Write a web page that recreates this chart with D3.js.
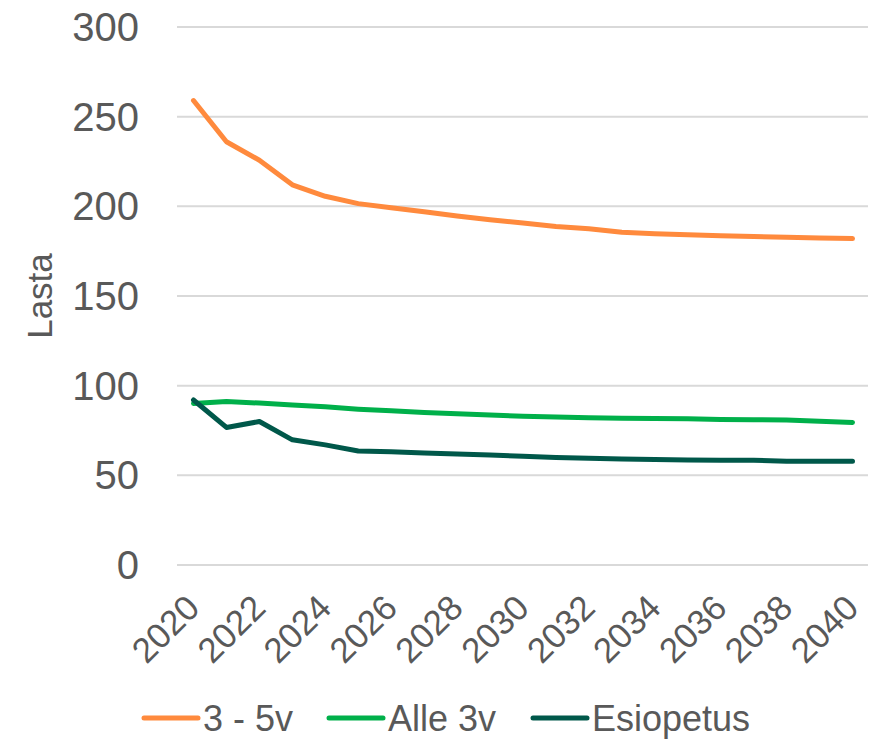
<!DOCTYPE html>
<html>
<head>
<meta charset="UTF-8">
<title>Lasta</title>
<style>
    body { margin: 0; background: #fff; }
    text { font-family: "Liberation Sans", Arial, sans-serif; fill: #595959; }
    .grid line { stroke: #d9d9d9; stroke-width: 2px; }
    .series { fill: none; stroke-width: 5px; stroke-linejoin: round; stroke-linecap: round; }
</style>
</head>
<body>
<svg id="chart" width="877" height="739"></svg>
<script src="https://d3js.org/d3.v7.min.js"></script>
<script>
    var years = d3.range(2020, 2041);
    var yTicks = [0, 50, 100, 150, 200, 250, 300];
    var xTicks = [2020, 2022, 2024, 2026, 2028, 2030, 2032, 2034, 2036, 2038, 2040];

    var seriesNames = ["3 - 5v", "Alle 3v", "Esiopetus"];
    var seriesColors = ["#ff8a3d", "#00b04a", "#00584a"];

    var v3to5 = [259, 236, 225.7, 212, 205.6, 201.5, 199.2, 197, 194.6, 192.5, 190.7,
        188.8, 187.5, 185.6, 184.7, 184.1, 183.6, 183.2, 182.8, 182.4, 182];
    var vAlle3 = [90.1, 91.2, 90.3, 89.2, 88.2, 86.9, 86, 85.1, 84.3, 83.6, 83,
        82.5, 82.1, 81.9, 81.7, 81.5, 81.2, 81, 80.8, 80.2, 79.5];
    var vEsiopetus = [92, 76.7, 80, 69.8, 67, 63.6, 63.2, 62.5, 61.9, 61.4, 60.6,
        59.9, 59.5, 59.1, 58.8, 58.6, 58.4, 58.4, 57.8, 57.8, 57.8];

    var allValues = [v3to5, vAlle3, vEsiopetus];

    var svg = d3.select("#chart");

    var x = d3.scaleLinear().domain([2020, 2040]).range([193.5, 852.5]);
    var y = d3.scaleLinear().domain([0, 300]).range([565, 27]);

    // gridlines
    svg.append("g").attr("class", "grid")
        .selectAll("line").data(yTicks).enter().append("line")
        .attr("x1", 177).attr("x2", 868)
        .attr("y1", function (d) { return y(d); })
        .attr("y2", function (d) { return y(d); });

    // y tick labels
    svg.append("g").selectAll("text").data(yTicks).enter().append("text")
        .attr("x", 139)
        .attr("y", function (d) { return y(d); })
        .attr("dy", "0.35em")
        .style("text-anchor", "end")
        .style("font-size", "40px")
        .text(function (d) { return d; });

    // y title
    svg.append("text")
        .attr("transform", "translate(52," + y(150) + ") rotate(-90)")
        .style("text-anchor", "middle")
        .style("font-size", "35px")
        .text("Lasta");

    // x tick labels
    svg.append("g").selectAll("text").data(xTicks).enter().append("text")
        .attr("transform", function (d) { return "translate(" + (x(d) + 8) + ",610) rotate(-45)"; })
        .style("text-anchor", "end")
        .style("font-size", "35px")
        .text(function (d) { return d; });

    // lines
    var line = d3.line()
        .x(function (d, i) { return x(years[i]); })
        .y(function (d) { return y(d); });

    svg.append("g").selectAll("path").data(allValues).enter().append("path")
        .attr("class", "series")
        .attr("stroke", function (d, i) { return seriesColors[i]; })
        .attr("d", line);

    // legend
    var legendX = [144, 329, 533];
    var lg = svg.append("g").selectAll("g").data(seriesNames).enter().append("g")
        .attr("transform", function (d, i) { return "translate(" + legendX[i] + ",718)"; });
    lg.append("line")
        .attr("x1", 0).attr("x2", 54).attr("y1", 0).attr("y2", 0)
        .attr("stroke", function (d, i) { return seriesColors[i]; })
        .attr("stroke-width", 5).attr("stroke-linecap", "round");
    lg.append("text")
        .attr("x", 59).attr("y", 0).attr("dy", "0.35em")
        .style("font-size", "36px")
        .text(function (d) { return d; });
</script>
</body>
</html>
